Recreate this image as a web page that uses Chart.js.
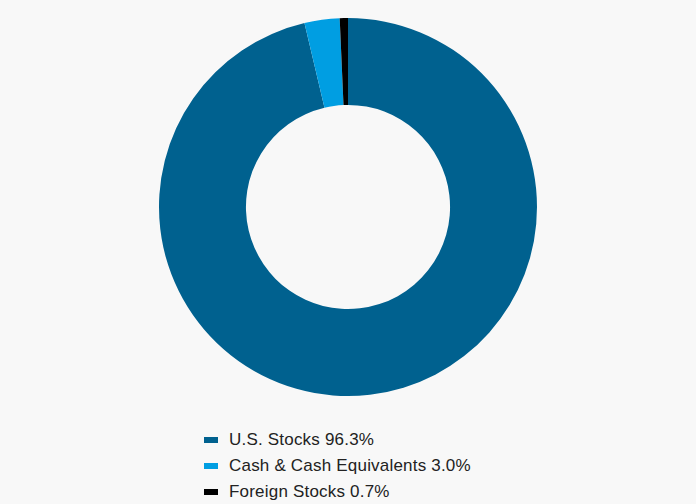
<!DOCTYPE html>
<html><head><meta charset="utf-8">
<script src="https://cdn.jsdelivr.net/npm/chart.js@4/dist/chart.umd.min.js"></script>
<style>
html,body{margin:0;padding:0;background:#f8f8f8;width:696px;height:504px;overflow:hidden;font-family:"Liberation Sans",Arial,sans-serif;}
#wrap{position:absolute;left:0;top:0;width:696px;height:414px;}
#legend{position:absolute;left:204px;top:427px;color:#222;font-size:17px;letter-spacing:0.2px;}
.item{height:26px;line-height:24px;display:flex;align-items:center;}
.box{width:14px;height:6px;margin-right:11px;}
</style></head>
<body>
<div id="wrap"><canvas id="c"></canvas></div>
<div id="legend"></div>
<script>
const categories = ["U.S. Stocks", "Cash & Cash Equivalents", "Foreign Stocks"];
const values = [96.3, 3.0, 0.7];
const colors = ["#00618f", "#009ee2", "#000000"];

new Chart(document.getElementById('c'), {
  type: 'doughnut',
  data: { labels: categories, datasets: [{ data: values, backgroundColor: colors, borderWidth: 0 }] },
  options: {
    responsive: true, maintainAspectRatio: false, animation: false,
    cutout: '54%',
    layout: { padding: { top: 18, bottom: 18 } },
    plugins: { legend: { display: false }, tooltip: { enabled: false } }
  }
});
const lg = document.getElementById('legend');
categories.forEach((c, i) => {
  const d = document.createElement('div'); d.className = 'item';
  const b = document.createElement('span'); b.className = 'box'; b.style.background = colors[i];
  const t = document.createElement('span'); t.textContent = c + ' ' + values[i].toFixed(1) + '%';
  d.appendChild(b); d.appendChild(t); lg.appendChild(d);
});
</script>
</body></html>
